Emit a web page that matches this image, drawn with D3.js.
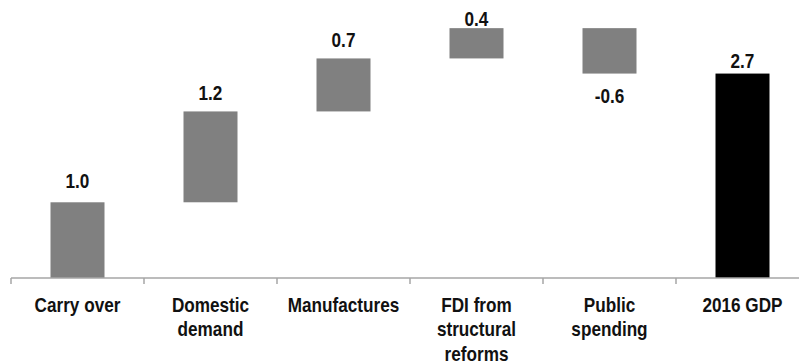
<!DOCTYPE html>
<html>
<head>
<meta charset="utf-8">
<script src="https://cdn.jsdelivr.net/npm/d3@7"></script>
<style>
  html, body { margin: 0; padding: 0; background: #fff; }
  svg { display: block; }
  text { font-family: "Liberation Sans", Arial, sans-serif; font-weight: bold; fill: #111; }
</style>
</head>
<body>
<svg id="chart" width="799" height="364"></svg>
<script>
// Contributions to 2016 GDP growth (percentage points)
const categories = ["Carry over", "Domestic demand", "Manufactures", "FDI from structural reforms", "Public spending", "2016 GDP"];
const values = [1.0, 1.2, 0.7, 0.4, -0.6, 2.7];
const isTotal = [false, false, false, false, false, true];

// Vertical gap (px) between each bar edge and its value label
const labelGaps = [14, 11, 11, 2, 15, 6];

const width = 799, height = 364;
const fontSize = 19.5;
const squeeze = 0.88;   // horizontal condensing of the bold sans text
const svg = d3.select("#chart");

const x = d3.scaleBand()
  .domain(categories)
  .range([11, 809])
  .paddingInner(0.594)
  .paddingOuter(0.297);

const xEdges = d3.scaleBand().domain(categories).range([11, 809]).padding(0);

const y = d3.scaleLinear().domain([0, 3.5]).range([278, 13]);

// Waterfall segments: each step starts where the previous one ended; totals start at zero
let running = 0;
const segs = categories.map((c, i) => {
  let start, end;
  if (isTotal[i]) { start = 0; end = values[i]; running = values[i]; }
  else { start = running; end = running + values[i]; running = end; }
  return { c, v: values[i], start, end, total: isTotal[i], gap: labelGaps[i] };
});

const fmt = d3.formatLocale({ decimal: ".", thousands: ",", grouping: [3], currency: ["", ""], minus: "-" }).format(".1f");

const condense = cx => `translate(${cx},0) scale(${squeeze},1) translate(${-cx},0)`;

svg.append("g").selectAll("rect")
  .data(segs)
  .join("rect")
  .attr("x", d => x(d.c))
  .attr("width", x.bandwidth())
  .attr("y", d => y(Math.max(d.start, d.end)))
  .attr("height", d => Math.abs(y(d.start) - y(d.end)))
  .attr("fill", d => d.total ? "#000000" : "#808080");

// Value labels: above the bar for rises, below it for falls
svg.append("g").selectAll("text")
  .data(segs)
  .join("text")
  .attr("x", d => x(d.c) + x.bandwidth() / 2)
  .attr("y", d => d.v >= 0 ? y(d.end) - d.gap : y(d.end) + d.gap + 14)
  .attr("transform", d => condense(x(d.c) + x.bandwidth() / 2))
  .attr("text-anchor", "middle")
  .attr("font-size", fontSize)
  .text(d => fmt(d.v));

// Category axis with ticks at band boundaries
const axisG = svg.append("g");
axisG.append("line")
  .attr("x1", 11).attr("x2", 809)
  .attr("y1", 278).attr("y2", 278)
  .attr("stroke", "#a6a6a6").attr("stroke-width", 1.5);

const edges = categories.map(c => xEdges(c)).concat([xEdges.range()[1]]);
axisG.selectAll("line.tick")
  .data(edges)
  .join("line")
  .attr("class", "tick")
  .attr("x1", d => d).attr("x2", d => d)
  .attr("y1", 278).attr("y2", 284)
  .attr("stroke", "#a6a6a6").attr("stroke-width", 1.5);

const labels = axisG.selectAll("text.cat")
  .data(categories)
  .join("text")
  .attr("class", "cat")
  .attr("x", d => xEdges(d) + xEdges.bandwidth() / 2)
  .attr("y", 312)
  .attr("transform", d => condense(xEdges(d) + xEdges.bandwidth() / 2))
  .attr("text-anchor", "middle")
  .attr("font-size", fontSize);

// Greedy word wrap to fit each label within its category
labels.each(function(d) {
  const t = d3.select(this);
  const words = d.split(" ");
  const maxW = 108 / squeeze;
  const lines = [];
  let line = [];
  const probe = t.append("tspan");
  words.forEach(w => {
    const trial = line.concat([w]).join(" ");
    probe.text(trial);
    if (line.length && probe.node().getComputedTextLength() > maxW) {
      lines.push(line.join(" "));
      line = [w];
    } else {
      line.push(w);
    }
  });
  lines.push(line.join(" "));
  probe.remove();
  const cx = t.attr("x");
  lines.forEach((l, i) => {
    t.append("tspan").attr("x", cx).attr("dy", i === 0 ? 0 : 24.5).text(l);
  });
});
</script>
</body>
</html>
